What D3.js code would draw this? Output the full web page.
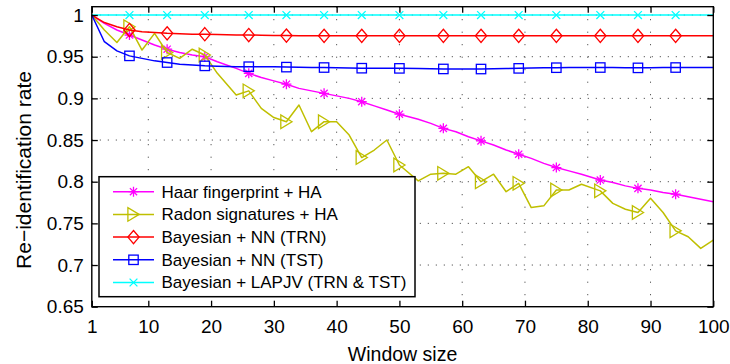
<!DOCTYPE html>
<html>
<head>
<meta charset="utf-8">
<script src="https://cdn.jsdelivr.net/npm/d3@7"></script>
<style>
  html, body { margin: 0; padding: 0; background: #fff; }
  svg { display: block; }
  text { font-family: "Liberation Sans", Arial, Helvetica, sans-serif; fill: #000; }
</style>
</head>
<body>
<svg id="chart" width="730" height="364"></svg>
<script>
// Window sizes at which each method was evaluated
const windowSizes = [1,3,5,7,9,11,13,15,17,19,21,24,26,28,30,32,34,36,38,40,42,44,46,48,50,
  53,55,57,59,61,63,65,67,69,71,73,75,77,79,82,84,86,88,90,92,94,96,98,100];

// Re-identification rate per method
const haarHA = [1.000,0.990,0.982,0.976,0.970,0.964,0.959,0.955,0.952,0.950,0.944,0.936,0.930,
  0.925,0.921,0.917,0.912,0.909,0.906,0.903,0.900,0.896,0.891,0.886,0.881,0.875,0.870,0.864,
  0.860,0.854,0.849,0.844,0.838,0.833,0.828,0.822,0.817,0.813,0.809,0.802,0.799,0.795,0.792,
  0.790,0.787,0.785,0.782,0.779,0.776];
const radonHA = [1.000,0.982,0.967,0.986,0.958,0.978,0.955,0.948,0.959,0.952,0.930,0.904,0.909,
  0.888,0.877,0.872,0.892,0.860,0.872,0.872,0.856,0.829,0.838,0.850,0.820,0.801,0.809,0.810,
  0.809,0.818,0.800,0.809,0.788,0.798,0.769,0.771,0.790,0.790,0.797,0.789,0.774,0.767,0.763,
  0.780,0.763,0.741,0.734,0.720,0.730];
const bayesNNTrn = [1.000,0.991,0.986,0.982,0.980,0.979,0.978,0.9775,0.977,0.977,0.9765,0.976,
  0.976,0.9758,0.9755,0.9753,0.975,0.975,0.975,0.975,0.975,0.975,0.975,0.975,0.975,0.975,0.975,
  0.975,0.975,0.975,0.975,0.975,0.975,0.975,0.975,0.975,0.975,0.975,0.975,0.975,0.975,0.975,
  0.975,0.975,0.975,0.975,0.975,0.975,0.975];
const bayesNNTst = [1.000,0.968,0.957,0.951,0.948,0.945,0.943,0.941,0.940,0.939,0.9385,0.938,
  0.938,0.938,0.9378,0.9375,0.9373,0.9371,0.937,0.9367,0.9364,0.9362,0.9361,0.936,0.936,0.9357,
  0.9355,0.9353,0.9352,0.9352,0.9352,0.9354,0.9357,0.936,0.9363,0.9366,0.9368,0.9369,0.937,
  0.937,0.937,0.9368,0.9366,0.9367,0.9369,0.937,0.937,0.937,0.937];
const bayesLapjv = [1,1,1,1,1,1,1,1,1,1,1,1,1,1,1,1,1,1,1,1,1,1,1,1,1,1,1,1,1,1,1,1,1,1,1,1,1,1,1,
  1,1,1,1,1,1,1,1,1,1];

const seriesNames = ["Haar fingerprint + HA", "Radon signatures + HA", "Bayesian + NN (TRN)",
  "Bayesian + NN (TST)", "Bayesian + LAPJV (TRN & TST)"];

const xTicks = [1,10,20,30,40,50,60,70,80,90,100];
const yTicks = [0.65,0.7,0.75,0.8,0.85,0.9,0.95,1];
const xTickLabels = ["1","10","20","30","40","50","60","70","80","90","100"];
const yTickLabels = ["0.65","0.7","0.75","0.8","0.85","0.9","0.95","1"];

const series = [
  { name: seriesNames[0], values: haarHA,     color: "#ff00ff", marker: "asterisk" },
  { name: seriesNames[1], values: radonHA,    color: "#bfbf00", marker: "triangleRight" },
  { name: seriesNames[2], values: bayesNNTrn, color: "#ff0000", marker: "diamond" },
  { name: seriesNames[3], values: bayesNNTst, color: "#0000ff", marker: "square" },
  { name: seriesNames[4], values: bayesLapjv, color: "#00ffff", marker: "cross" }
];

const svg = d3.select("#chart");
const plot = { left: 91.8, right: 713.3, top: 6.7, bottom: 306.7 };

const x = d3.scaleLinear().domain([1, 100]).range([plot.left, plot.right]);
const y = d3.scaleLinear().domain([0.65, 1.01]).range([plot.bottom, plot.top]);

// dotted grid
const grid = svg.append("g");
grid.selectAll("line.v").data(xTicks.slice(1, -1)).join("line")
  .attr("x1", d => x(d)).attr("x2", d => x(d))
  .attr("y1", plot.top).attr("y2", plot.bottom)
  .attr("stroke", "#333").attr("stroke-width", 1)
  .attr("stroke-dasharray", "1,11.5");
grid.selectAll("line.h").data(yTicks.slice(1)).join("line")
  .attr("y1", d => y(d)).attr("y2", d => y(d))
  .attr("x1", plot.left).attr("x2", plot.right)
  .attr("stroke", "#333").attr("stroke-width", 1)
  .attr("stroke-dasharray", "1,7");

// marker shapes
function drawMarker(g, type, cx, cy, color) {
  const sw = 1.3;
  if (type === "asterisk") {
    const r = 5, d = r * 0.72;
    const p = `M${cx - r},${cy}L${cx + r},${cy}M${cx},${cy - r}L${cx},${cy + r}` +
      `M${cx - d},${cy - d}L${cx + d},${cy + d}M${cx - d},${cy + d}L${cx + d},${cy - d}`;
    g.append("path").attr("d", p).attr("stroke", color).attr("stroke-width", sw).attr("fill", "none");
  } else if (type === "triangleRight") {
    const hw = 5.6, hh = 6.8;
    g.append("path")
      .attr("d", `M${cx + hw},${cy}L${cx - hw},${cy - hh}L${cx - hw},${cy + hh}Z`)
      .attr("stroke", color).attr("stroke-width", sw).attr("fill", "none");
  } else if (type === "diamond") {
    const hw = 5.6, hh = 6.6;
    g.append("path")
      .attr("d", `M${cx},${cy - hh}L${cx + hw},${cy}L${cx},${cy + hh}L${cx - hw},${cy}Z`)
      .attr("stroke", color).attr("stroke-width", sw).attr("fill", "none");
  } else if (type === "square") {
    const h = 4.7;
    g.append("rect").attr("x", cx - h).attr("y", cy - h).attr("width", 2 * h).attr("height", 2 * h)
      .attr("stroke", color).attr("stroke-width", sw).attr("fill", "none");
  } else if (type === "cross") {
    const r = 3.9;
    g.append("path")
      .attr("d", `M${cx - r},${cy - r}L${cx + r},${cy + r}M${cx - r},${cy + r}L${cx + r},${cy - r}`)
      .attr("stroke", color).attr("stroke-width", sw).attr("fill", "none");
  }
}

// series lines and markers (markers on every third evaluated window size)
const line = d3.line().x(d => x(d[0])).y(d => y(d[1]));
const dataG = svg.append("g");
series.forEach(s => {
  const pts = windowSizes.map((w, i) => [w, s.values[i]]);
  dataG.append("path").attr("d", line(pts))
    .attr("fill", "none").attr("stroke", s.color).attr("stroke-width", 1.5)
    .attr("stroke-linejoin", "round");
  const mg = dataG.append("g");
  pts.forEach((p, i) => {
    if (i > 0 && i < pts.length - 1 && i % 3 === 0) drawMarker(mg, s.marker, x(p[0]), y(p[1]), s.color);
  });
});

// axes with inward ticks on all four sides
const tickFont = "19px";
const axB = svg.append("g").attr("transform", `translate(0,${plot.bottom})`)
  .call(d3.axisBottom(x).tickValues(xTicks).tickFormat((d, i) => xTickLabels[i])
    .tickSizeInner(-6).tickSizeOuter(0).tickPadding(13));
const axL = svg.append("g").attr("transform", `translate(${plot.left},0)`)
  .call(d3.axisLeft(y).tickValues(yTicks).tickFormat((d, i) => yTickLabels[i])
    .tickSizeInner(-6).tickSizeOuter(0).tickPadding(8));
const axT = svg.append("g").attr("transform", `translate(0,${plot.top})`)
  .call(d3.axisTop(x).tickValues(xTicks).tickFormat("").tickSizeInner(-6).tickSizeOuter(0));
const axR = svg.append("g").attr("transform", `translate(${plot.right},0)`)
  .call(d3.axisRight(y).tickValues(yTicks).tickFormat("").tickSizeInner(-6).tickSizeOuter(0));
[axB, axL, axT, axR].forEach(a => {
  a.select(".domain").remove();
  a.selectAll(".tick line").attr("stroke", "#000").attr("stroke-width", 1.3);
  a.selectAll("text").style("font-size", tickFont)
    .style("font-family", "'Liberation Sans', Arial, Helvetica, sans-serif").attr("fill", "#000");
});

svg.append("rect")
  .attr("x", plot.left).attr("y", plot.top)
  .attr("width", plot.right - plot.left).attr("height", plot.bottom - plot.top)
  .attr("fill", "none").attr("stroke", "#000").attr("stroke-width", 1.4);

// axis titles
svg.append("text")
  .attr("x", (plot.left + plot.right) / 2).attr("y", 361)
  .attr("text-anchor", "middle").style("font-size", "19.5px")
  .text("Window size");
svg.append("text")
  .attr("transform", `translate(31,170) rotate(-90)`)
  .attr("text-anchor", "middle").style("font-size", "21px")
  .text("Re\u2212identification rate");

// legend
const lg = svg.append("g");
lg.append("rect").attr("x", 99).attr("y", 176.7).attr("width", 316).attr("height", 120)
  .attr("fill", "#fff").attr("stroke", "#000").attr("stroke-width", 1.5);
series.forEach((s, i) => {
  const cy = 191.7 + i * 22.7;
  lg.append("line").attr("x1", 113).attr("x2", 154).attr("y1", cy).attr("y2", cy)
    .attr("stroke", s.color).attr("stroke-width", 1.5);
  drawMarker(lg, s.marker, 133.5, cy, s.color);
  lg.append("text").attr("x", 161.5).attr("y", cy).attr("dy", "0.35em")
    .style("font-size", "17px").text(s.name);
});
</script>
</body>
</html>
